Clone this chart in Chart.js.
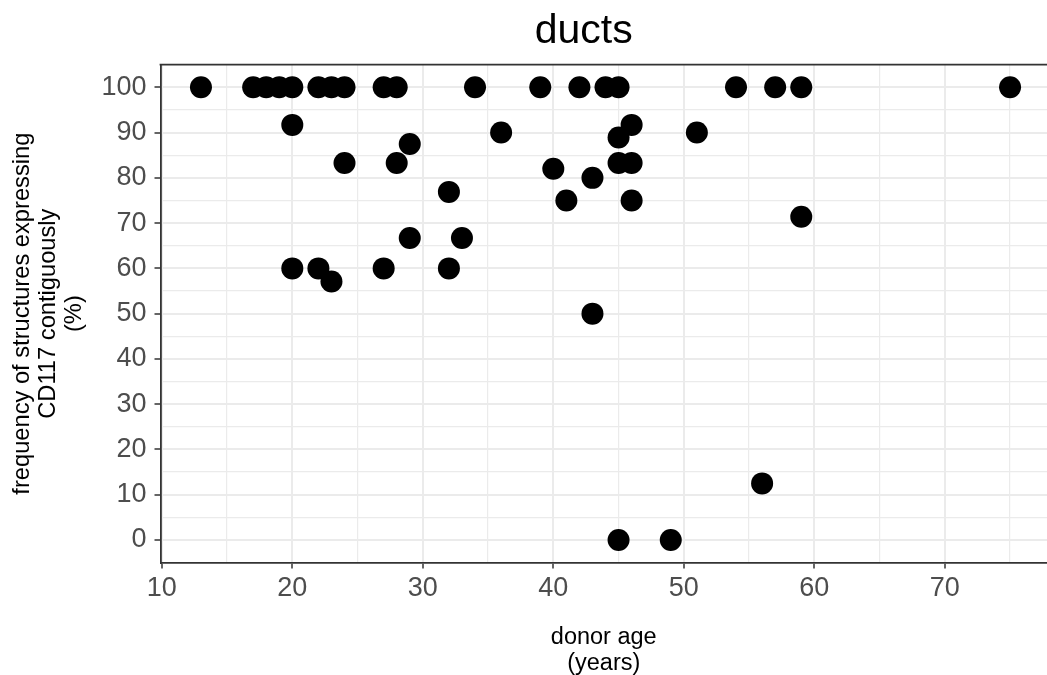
<!DOCTYPE html>
<html>
<head>
<meta charset="utf-8">
<script src="https://cdn.jsdelivr.net/npm/chart.js@4"></script>
<style>
html,body{margin:0;padding:0;background:#ffffff;}
#wrap{width:1047px;height:675px;position:relative;}
</style>
</head>
<body>
<div id="wrap"><canvas id="c"></canvas></div>
<script>
const chartTitle = 'ducts';
const xTitle = ['donor age', '(years)'];
const yTitle = ['frequency of structures expressing', 'CD117 contiguously', '(%)'];

const donorAge = [
  13, 17, 18, 19, 20, 22, 23, 24, 27, 28, 34, 39, 42, 44, 45, 54, 57, 59, 75,
  20, 36, 29, 24, 28, 32, 29, 33, 20, 22, 23, 27, 32,
  46, 45, 51, 40, 43, 45, 46, 41, 46, 43, 59, 56, 45, 49
];
const frequency = [
  100, 100, 100, 100, 100, 100, 100, 100, 100, 100, 100, 100, 100, 100, 100, 100, 100, 100, 100,
  91.7, 90, 87.5, 83.3, 83.3, 76.9, 66.7, 66.7, 60, 60, 57.1, 60, 60,
  91.7, 88.9, 90, 82, 80, 83.3, 83.3, 75, 75, 50, 71.4, 12.5, 0, 0
];

const xMajorTicks = [10, 20, 30, 40, 50, 60, 70];
const xMinorTicks = [15, 25, 35, 45, 55, 65, 75];
const yMajorTicks = [0, 10, 20, 30, 40, 50, 60, 70, 80, 90, 100];
const yMinorTicks = [5, 15, 25, 35, 45, 55, 65, 75, 85, 95];

const FONT = "'Liberation Sans', Arial, Helvetica, sans-serif";
const GRID = '#ebebeb';
const DARK = '#333333';

const points = donorAge.map((a, i) => ({ x: a, y: frequency[i] }));

const panelPlugin = {
  id: 'panel',
  afterDraw(chart) {
    const { ctx, chartArea: a } = chart;
    ctx.save();
    ctx.strokeStyle = DARK;
    ctx.lineWidth = 1.8;
    ctx.beginPath();
    ctx.moveTo(a.left - 0.9, a.top);
    ctx.lineTo(a.right, a.top);
    ctx.stroke();
    ctx.fillStyle = '#000000';
    ctx.font = '41px ' + FONT;
    ctx.textAlign = 'center';
    ctx.textBaseline = 'alphabetic';
    ctx.fillText(chartTitle, (a.left + a.right) / 2 - 20, 43.3);
    ctx.restore();
  }
};

function makeTicks(major, minor) {
  return [...major, ...minor].sort((p, q) => p - q).map(v => ({ value: v }));
}

new Chart(document.getElementById('c'), {
  type: 'scatter',
  data: {
    datasets: [{
      data: points,
      backgroundColor: '#000000',
      borderWidth: 0,
      pointRadius: 11,
      pointHoverRadius: 11
    }]
  },
  options: {
    responsive: true,
    maintainAspectRatio: false,
    animation: false,
    events: [],
    layout: { autoPadding: false, padding: { top: 64.7, left: 0, right: 0, bottom: 0 } },
    plugins: {
      legend: { display: false },
      title: { display: false },
      tooltip: { enabled: false }
    },
    scales: {
      x: {
        type: 'linear',
        min: 9.9,
        max: 77.83,
        afterBuildTicks: s => { s.ticks = makeTicks(xMajorTicks, xMinorTicks); },
        afterFit: s => { s.height = 112.4; s.paddingRight = 0; s.paddingLeft = 0; },
        ticks: {
          autoSkip: false,
          maxRotation: 0,
          color: '#4d4d4d',
          font: { family: FONT, size: 27 },
          padding: 4,
          callback: v => xMajorTicks.includes(v) ? String(v) : ''
        },
        grid: {
          color: GRID,
          lineWidth: c => xMajorTicks.includes(c.tick.value) ? 2 : 1.2,
          tickColor: c => xMajorTicks.includes(c.tick.value) ? DARK : 'rgba(0,0,0,0)',
          tickLength: 6,
          tickWidth: 1.5
        },
        border: { display: true, color: DARK, width: 1.8 },
        title: {
          display: true,
          text: xTitle,
          color: '#000000',
          font: { family: FONT, size: 23.5, lineHeight: 1.1 },
          padding: { top: 0, bottom: -1 }
        }
      },
      y: {
        type: 'linear',
        min: -5,
        max: 105,
        afterBuildTicks: s => { s.ticks = makeTicks(yMajorTicks, yMinorTicks); },
        afterFit: s => { s.width = 160.5; },
        ticks: {
          autoSkip: false,
          color: '#4d4d4d',
          font: { family: FONT, size: 27 },
          padding: 8,
          callback: v => yMajorTicks.includes(v) ? String(v) : ''
        },
        grid: {
          color: GRID,
          lineWidth: c => yMajorTicks.includes(c.tick.value) ? 2 : 1.2,
          tickColor: c => yMajorTicks.includes(c.tick.value) ? DARK : 'rgba(0,0,0,0)',
          tickLength: 6,
          tickWidth: 1.5
        },
        border: { display: true, color: DARK, width: 1.8 },
        title: {
          display: true,
          text: yTitle,
          color: '#000000',
          font: { family: FONT, size: 23.7, lineHeight: 1.106 },
          padding: { top: 9, bottom: 0 }
        }
      }
    }
  },
  plugins: [panelPlugin]
});
</script>
</body>
</html>
